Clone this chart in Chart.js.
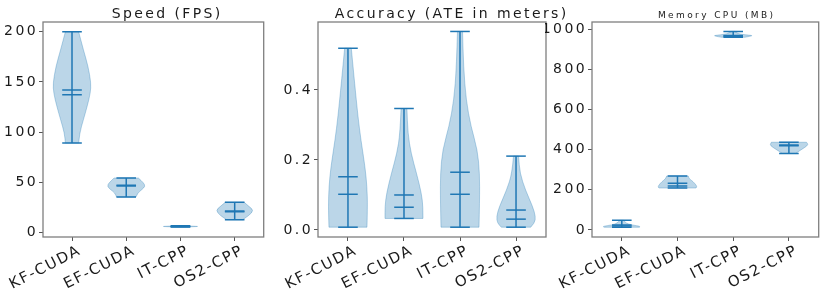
<!DOCTYPE html>
<html>
<head>
<meta charset="utf-8">
<script src="https://cdn.jsdelivr.net/npm/chart.js@4"></script>
<style>
html, body { margin: 0; padding: 0; background: #fff; }
#wrap { position: relative; width: 830px; height: 296px; overflow: hidden; }
#wrap canvas { position: absolute; top: 0; }
</style>
</head>
<body>
<div id="wrap">
  <canvas id="speed" width="275" height="296" style="left:0px"></canvas>
  <canvas id="accuracy" width="300" height="296" style="left:275px"></canvas>
  <canvas id="memory" width="285" height="296" style="left:545px"></canvas>
</div>
<script>
// violin data
const categories = ['KF-CUDA', 'EF-CUDA', 'IT-CPP', 'OS2-CPP'];

const speedTicks = [0, 50, 100, 150, 200];
const speedMin = [89.2, 35.5, 5.6, 12.9];
const speedMax = [200, 54.4, 6.8, 30.2];
const speedMean = [137.3, 47.1, 6.2, 21.6];
const speedMedian = [142, 46.5, 6.2, 20.9];
const speedShapeY = [
    [89.2, 99.2, 112.4, 125.7, 139, 149, 165.5, 182, 200],
    [35.5, 39.5, 42.8, 46.1, 49.5, 54.4],
    [5.6, 5.9, 6.2, 6.5, 6.8],
    [12.9, 16.9, 22.2, 26.2, 30.2]
];
const speedShapeW = [
    [0.35, 0.4, 0.6, 0.8, 0.97, 1.0, 0.85, 0.6, 0.35],
    [0.51, 0.6, 0.82, 1.0, 0.92, 0.64],
    [0.15, 0.6, 1.0, 0.6, 0.15],
    [0.42, 0.75, 1.0, 0.75, 0.5]
];

const accTicks = [0, 0.2, 0.4];
const accMin = [0.008, 0.033, 0.008, 0.008];
const accMax = [0.519, 0.347, 0.567, 0.211];
const accMean = [0.152, 0.100, 0.165, 0.057];
const accMedian = [0.102, 0.065, 0.102, 0.031];
const accShapeY = [
    [0.008, 0.067, 0.124, 0.181, 0.257, 0.324, 0.419, 0.519],
    [0.033, 0.067, 0.105, 0.162, 0.219, 0.276, 0.347],
    [0.008, 0.086, 0.162, 0.229, 0.295, 0.371, 0.467, 0.567],
    [0.008, 0.02, 0.038, 0.067, 0.114, 0.162, 0.211]
];
const accShapeW = [
    [0.97, 1.0, 0.97, 0.87, 0.66, 0.51, 0.34, 0.17],
    [0.97, 0.97, 0.89, 0.64, 0.36, 0.2, 0.15],
    [0.97, 1.0, 1.0, 0.89, 0.56, 0.31, 0.18, 0.13],
    [0.75, 0.95, 1.0, 0.85, 0.48, 0.2, 0.13]
];

const memTicks = [0, 200, 400, 600, 800, 1000];
const memMin = [13.5, 209, 960, 381];
const memMax = [48, 269, 989, 437];
const memMean = [25, 233, 969, 419];
const memMedian = [20, 219, 965, 423];
const memShapeY = [
    [13.5, 18, 25, 35, 48],
    [209, 215, 224, 241, 255, 269],
    [960, 965, 969, 975, 989],
    [381, 395, 410, 425, 437]
];
const memShapeW = [
    [0.9, 1.0, 0.5, 0.2, 0.1],
    [0.95, 1.0, 0.95, 0.8, 0.6, 0.55],
    [0.6, 0.9, 1.0, 0.3, 0.08],
    [0.35, 0.55, 0.8, 1.0, 0.9]
];

const BLUE = '#1f77b4';
const BODY = 'rgba(31, 119, 180, 0.3)';
const HALF = 0.35;           // half of violin width 0.7
const FONT = "'DejaVu Sans', sans-serif";
const SPACING = '2.4px';
const LABEL_SPACING = '1.6px';

// smooth one side of the outline through midpoints
function side(ctx, pts, first) {
    if (first) ctx.moveTo(pts[0][0], pts[0][1]);
    else ctx.lineTo(pts[0][0], pts[0][1]);
    for (let i = 1; i < pts.length - 1; i++) {
        const mx = (pts[i][0] + pts[i + 1][0]) / 2;
        const my = (pts[i][1] + pts[i + 1][1]) / 2;
        ctx.quadraticCurveTo(pts[i][0], pts[i][1], mx, my);
    }
    const last = pts[pts.length - 1];
    ctx.lineTo(last[0], last[1]);
}

function violinPlugin(p) {
    return {
        id: 'violins',
        beforeDraw(chart) {
            chart.ctx.letterSpacing = SPACING;
        },
        beforeDatasetsDraw(chart) {
            const { ctx, chartArea, scales: { x, y } } = chart;
            ctx.save();
            ctx.beginPath();
            ctx.rect(chartArea.left, chartArea.top, chartArea.width, chartArea.height);
            ctx.clip();
            p.shapeY.forEach((ys, i) => {
                const c = i + 1;
                const ws = p.shapeW[i];
                const right = ys.map((v, k) => [x.getPixelForValue(c + ws[k] * HALF), y.getPixelForValue(v)]);
                const left = ys.map((v, k) => [x.getPixelForValue(c - ws[k] * HALF), y.getPixelForValue(v)]).reverse();
                ctx.beginPath();
                side(ctx, right, true);
                side(ctx, left, false);
                ctx.closePath();
                ctx.fillStyle = BODY;
                ctx.fill();
                ctx.lineWidth = 1;
                ctx.strokeStyle = BODY;
                ctx.stroke();
            });
            ctx.restore();
        },
        afterDraw(chart) {
            const { ctx, chartArea } = chart;
            ctx.save();
            ctx.strokeStyle = '#7f7f7f';
            ctx.lineWidth = 1.3;
            ctx.strokeRect(chartArea.left, chartArea.top, chartArea.width, chartArea.height);
            ctx.font = p.titleSize + 'px ' + FONT;
            ctx.letterSpacing = SPACING;
            ctx.fillStyle = '#1a1a1a';
            ctx.textAlign = 'center';
            ctx.textBaseline = 'alphabetic';
            ctx.fillText(p.title, p.titleX, 17.5);
            ctx.restore();
        }
    };
}

// own spacing for the slanted category labels
function spacedLabels(s) {
    if (s._spaced) return;
    s._spaced = true;
    const base = s.drawLabels;
    s.drawLabels = function (area) {
        const ctx = this.ctx;
        const prev = ctx.letterSpacing;
        ctx.letterSpacing = LABEL_SPACING;
        base.call(this, area);
        ctx.letterSpacing = prev;
    };
}

function makePanel(id, p) {
    const stems = p.min.map((v, i) => ({
        data: [{ x: i + 1, y: v }, { x: i + 1, y: p.max[i] }],
        showLine: true,
        borderColor: BLUE,
        borderWidth: 1.5,
        pointRadius: 0
    }));
    const marks = [];
    p.min.forEach((v, i) => {
        marks.push({ x: i + 1, y: v }, { x: i + 1, y: p.max[i] },
                   { x: i + 1, y: p.mean[i] }, { x: i + 1, y: p.median[i] });
    });

    new Chart(document.getElementById(id), {
        type: 'scatter',
        data: {
            datasets: [...stems, {
                data: marks,
                pointStyle: 'line',
                pointRadius: 9.8,
                pointBorderWidth: 1.5,
                pointBorderColor: BLUE,
                pointBackgroundColor: BLUE
            }]
        },
        options: {
            responsive: false,
            animation: false,
            events: [],
            layout: { padding: { top: 22, right: p.padRight, left: 0, bottom: 0 } },
            plugins: { legend: { display: false }, tooltip: { enabled: false } },
            scales: {
                x: {
                    type: 'linear',
                    min: 0.465,
                    max: 4.535,
                    afterBuildTicks: s => { s.ticks = categories.map((_, i) => ({ value: i + 1 })); },
                    afterFit: s => { s.height = 59; s.paddingLeft = 0; s.paddingRight = 0; spacedLabels(s); },
                    ticks: {
                        callback: (v, i) => categories[i],
                        autoSkip: false,
                        minRotation: 27,
                        maxRotation: 27,
                        labelOffset: 8,
                        padding: 1,
                        color: '#1a1a1a',
                        font: { family: FONT, size: 15 }
                    },
                    grid: { drawOnChartArea: false, drawTicks: true, tickLength: 4, color: '#555', lineWidth: 1 },
                    border: { display: false }
                },
                y: {
                    type: 'linear',
                    min: p.yMin,
                    max: p.yMax,
                    afterBuildTicks: s => { s.ticks = p.ticks.map(v => ({ value: v })); },
                    afterFit: s => { s.width = p.yWidth; s.paddingTop = 0; s.paddingBottom = 0; },
                    ticks: {
                        callback: p.fmt,
                        padding: 1,
                        color: '#1a1a1a',
                        font: { family: FONT, size: 14 }
                    },
                    grid: { drawOnChartArea: false, drawTicks: true, tickLength: 4, color: '#555', lineWidth: 1 },
                    border: { display: false }
                }
            }
        },
        plugins: [violinPlugin(p)]
    });
}

makePanel('speed', {
    min: speedMin, max: speedMax, mean: speedMean, median: speedMedian,
    shapeY: speedShapeY, shapeW: speedShapeW, ticks: speedTicks,
    yMin: -4.3, yMax: 209.7, fmt: v => String(v),
    yWidth: 43, padRight: 4,
    title: 'Speed (FPS)', titleSize: 14, titleX: 167.2
});

makePanel('accuracy', {
    min: accMin, max: accMax, mean: accMean, median: accMedian,
    shapeY: accShapeY, shapeW: accShapeW, ticks: accTicks,
    yMin: -0.02, yMax: 0.594, fmt: v => v.toFixed(1),
    yWidth: 43, padRight: 29,
    title: 'Accuracy (ATE in meters)', titleSize: 14, titleX: 176.7
});

makePanel('memory', {
    min: memMin, max: memMax, mean: memMean, median: memMedian,
    shapeY: memShapeY, shapeW: memShapeW, ticks: memTicks,
    yMin: -35, yMax: 1036, fmt: v => String(v),
    yWidth: 47, padRight: 9,
    title: 'Memory CPU (MB)', titleSize: 9, titleX: 171.7
});
</script>
</body>
</html>
